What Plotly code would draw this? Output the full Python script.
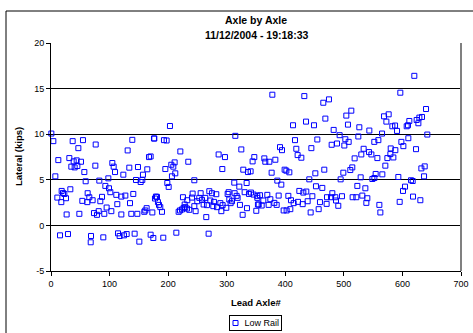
import plotly.graph_objects as go

# Lead axle number and lateral load (kips), Low Rail
axle = [
    0.6, 4, 37, 54.6, 46.7, 76.3, 138.8, 175.8, 130.9, 12.5, 31.3, 38.7, 43.8, 51.2, 34.7, 40.4, 45,
    56.9, 75.7, 104.7, 107, 109.3, 123.5, 133.7, 148.5, 164.4, 167.3, 170.1, 157, 7.4, 59.2, 82.5,
    97.9, 145.1, 153.1, 155.9, 92.8, 99, 101.3, 18.2, 20.5, 22.8, 33, 10.8, 25.6, 17.6, 62.6, 65.4,
    71.1, 62, 53.5, 87.1, 84.2, 111.5, 120.1, 126.9, 140.5, 134.9, 113.2, 95, 103, 81.4, 73.4, 78.5,
    91, 48.4, 26.7, 120.1, 137.1, 147.4, 159.3, 161, 163.3, 173, 177.5, 179.2,
    15.4, 29, 68.3, 67.8, 89.3, 114.4, 117.2, 124.6, 129.2, 142.8, 150.8, 170.1, 174.7,
    203.1, 176.4, 192.9, 197.4, 314.7, 324.9, 220.8, 286.2, 297, 347.1, 344.2, 234.4, 211.1, 205.4,
    208.8, 195.2, 212.2, 206.5, 292.5, 328.3, 336.3, 340.8, 244.7, 198.6, 200.9, 312.9, 321.5, 334,
    181, 182.6, 184.4, 186.6, 189.5, 217.9, 220.2, 223.6, 226.5, 229.3, 232.1, 225.3, 232.7, 228.2,
    236.1, 240.7, 241.8, 244.7, 246.9, 249.8, 253.2, 255.5, 257.8, 260.6, 263.4, 265.1, 266.3, 270.3,
    272, 274.8, 277.1, 278.2, 282.2, 283.4, 289.1, 290.8, 293, 299.3, 301.6, 303.3, 304.4, 306.7, 309,
    313.5, 316.9, 318.6, 322.6, 327.2, 330.6, 334.6, 338, 341.4, 345.9, 350.5, 352.2, 353.3,
    191.7, 214, 269.1,
    377.9, 432.5, 464.9, 474.6, 512.7, 504.2, 435.4, 449, 413.2, 468.4, 507, 526.4, 482.6, 492.8,
    524.7, 502.5, 508.2, 416.6, 454.7, 479.2, 488.3, 500.8, 391, 394.4, 418.8, 444.5, 533.8, 421.1,
    427.4, 529.8, 518.4, 364.2, 365.9, 372.8, 383, 398.9, 401.8, 406.9, 466.6, 514.4, 511, 499.1,
    451.3, 376.7, 441, 494.5, 528.7, 386.4, 393.2, 452.4, 463.2, 523, 424, 430.8, 435.9, 480.3,
    356.8, 369.3, 388.7, 405.2, 446.2, 471.2, 478, 485.4, 496.8, 515, 521.3, 531.5, 352.3, 362.5,
    374.5, 409.7, 414.3, 421.7, 429.7, 438.2, 459.2, 486.6, 490.5, 470.6, 354.6, 359.7, 371.6, 381.3,
    385.3, 397.2, 402.3, 408.6, 443.3, 457,
    620.3, 596.4, 640.3, 568.6, 576.5, 572.6, 582.8, 587.4, 590.8, 611.8, 607.3, 609.5, 624.3, 628.9,
    633.4, 627.2, 543.5, 565.2, 642.5, 610.1, 558.9, 552, 598.2, 601.6, 580, 587.9, 623.2, 543, 547,
    579.4, 574.3, 584.5, 557.2, 570.8, 638, 632.3, 565.7, 554.3, 593, 636.9, 552.1, 548.7, 614.7,
    617.5, 536.7, 604.4, 601, 540.1, 618.1, 630.6, 538.4, 560.6, 595.3, 562.3,
]
lateral = [
    10.07, 9.24, 9.24, 9.35, 8.47, 8.87, 9.38, 9.53, 8.22, 7.16, 7.38, 7.02, 7.13, 6.98, 6.44, 6.36, 6.51,
    5.85, 6.55, 6.84, 6.44, 5.85, 5.56, 6.33, 6.4, 6.15, 7.49, 7.56, 5.56, 5.38, 4.84, 4.91,
    5.16, 4.98, 4.76, 4.98, 4.33, 4.07, 3.64, 3.78, 3.56, 3.45, 3.96, 3.05, 2.98, 2.55, 3.53, 3.09,
    2.76, 2.55, 2.69, 3.13, 2.65, 3.35, 3.16, 3.27, 3.45, 2.44, 2.33, 1.96, 1.56, 1.56, 1.35, 1.16,
    1.27, 1.27, 1.2, 1.2, 1.27, 1.27, 1.49, 1.64, 1.89, 1.42, 2.95, 3.16,
    -1.09, -0.95, -1.16, -1.85, -1.31, -0.87, -1.16, -1.09, -0.95, -0.91, -1.78, -1.02, -1.38,
    10.9, 9.53, 9.35, 9.31, 9.82, 8.33, 8.11, 7.78, 7.49, 7.49, 7.02, 6.98, 6.91, 6.65,
    6.44, 6.18, 5.71, 5.38, 6.18, 6.11, 5.85, 5.93, 4.95, 4.65, 4.22, 4.69, 4.25, 4.65,
    3.13, 2.55, 2.25, 2.0, 1.49, 1.49, 1.64, 1.75, 1.93, 2.0, 1.85, 3.09, 2.76, 2.29,
    1.71, 3.05, 3.49, 2.11, 1.56, 2.65, 3.02, 3.53, 2.8, 2.29, 3.02, 0.91, 2.22, 3.75,
    2.73, 3.53, 2.11, 2.58, 3.42, 2.0, 2.44, 1.56, 2.22, 1.93, 3.45, 3.64, 2.84, 2.44, 2.65,
    3.53, 3.24, 3.02, 2.25, 1.16, 3.64, 1.89, 3.45, 3.6, 3.38, 1.6, 3.24, 2.29,
    -1.35, -0.8, -0.91,
    14.33, 14.18, 13.45, 13.82, 12.58, 12.04, 11.38, 10.98, 10.98, 11.71, 11.05, 10.76, 10.47, 9.89,
    9.75, 9.45, 9.16, 9.35, 9.42, 8.84, 8.98, 8.76, 8.58, 8.25, 8.4, 8.47, 8.4, 7.71,
    7.42, 7.78, 7.35, 7.35, 6.98, 6.98, 7.2, 6.11, 6.0, 5.82, 6.11, 6.36, 6.07, 5.78,
    5.71, 5.78, 5.05, 5.05, 5.27, 4.91, 4.47, 4.29, 4.11, 4.33, 3.78, 3.6, 3.71, 3.53,
    3.31, 3.35, 3.27, 3.24, 3.2, 3.09, 3.09, 3.09, 3.2, 3.09, 3.09, 3.27, 3.02, 2.73,
    2.87, 2.76, 2.44, 2.58, 2.33, 2.65, 2.55, 2.73, 2.15, 2.36, 2.29, 2.18, 2.25, 2.47,
    2.25, 1.64, 1.64, 1.78, 1.42, 1.78,
    16.4, 14.55, 12.76, 11.96, 12.18, 11.38, 10.87, 10.95, 10.36, 11.45, 10.87, 10.98, 11.56, 11.82,
    11.89, 11.2, 10.4, 10.07, 9.96, 9.56, 9.35, 9.16, 9.16, 8.69, 8.44, 8.25, 8.36, 8.04, 7.78,
    7.82, 7.38, 7.45, 7.38, 6.55, 6.47, 6.25, 5.6, 5.64, 5.31, 5.38, 5.2, 5.09, 4.95,
    4.87, 4.07, 4.25, 3.78, 2.98, 3.16, 2.76, 2.47, 2.25, 2.58, 1.42,
]

x_ticks = [0, 100, 200, 300, 400, 500, 600, 700]
y_ticks = [-5, 0, 5, 10, 15, 20]
series_name = "Low Rail"

FONT = "Liberation Sans, Arial, sans-serif"
L, R, T, B = 51, 461, 43, 271   # plot area in pixels
PW, PH = R - L, B - T


def px(x):
    return (x - L) / PW


def py(y):
    return (B - y) / PH


fig = go.Figure()
fig.add_trace(go.Scatter(
    x=axle, y=lateral, mode="markers", name=series_name, showlegend=False,
    marker=dict(symbol="square-open", size=5, color="#0000FF", line=dict(width=1, color="#0000FF")),
    cliponaxis=False, hoverinfo="skip",
))

fig.update_layout(
    width=473, height=333,
    margin=dict(l=L, r=473 - R, t=T, b=333 - B, autoexpand=False),
    paper_bgcolor="white", plot_bgcolor="white",
    font=dict(family=FONT, size=9, color="black"),
    showlegend=False,
    xaxis=dict(
        range=[0, 700], tickvals=x_ticks, ticktext=[str(v) for v in x_ticks],
        showgrid=False, zeroline=False, showline=True, linecolor="black", linewidth=1,
        ticks="outside", ticklen=4, tickcolor="black", tickfont=dict(size=9), automargin=False,
    ),
    yaxis=dict(
        range=[-5, 20], tickvals=y_ticks, ticktext=[str(v) for v in y_ticks],
        showgrid=True, gridcolor="black", gridwidth=1, zeroline=False,
        showline=True, linecolor="black", linewidth=1,
        ticks="outside", ticklen=4, tickcolor="black", tickfont=dict(size=9), automargin=False,
    ),
    annotations=[
        dict(text="<b>Axle by Axle</b>", xref="paper", yref="paper", x=0.5, y=py(20),
             showarrow=False, font=dict(size=10.5), xanchor="center", yanchor="middle"),
        dict(text="<b>11/12/2004 - 19:18:33</b>", xref="paper", yref="paper", x=0.5, y=py(35),
             showarrow=False, font=dict(size=10.5), xanchor="center", yanchor="middle"),
        dict(text="<b>Lead Axle#</b>", xref="paper", yref="paper", x=0.5, y=py(302),
             showarrow=False, font=dict(size=9.5), xanchor="center", yanchor="middle"),
        dict(text="<b>Lateral (kips)</b>", xref="paper", yref="paper", x=px(18), y=0.5,
             showarrow=False, font=dict(size=9.5), xanchor="center", yanchor="middle", textangle=-90),
        # legend box
        dict(text=series_name, xref="paper", yref="paper", x=px(282), y=py(323),
             showarrow=False, font=dict(size=9), xanchor="right", yanchor="middle",
             width=47, align="right", bordercolor="black", borderwidth=1, borderpad=2),
    ],
    shapes=[
        dict(type="line", xref="paper", yref="paper", x0=1, x1=1, y0=0, y1=1,
             line=dict(color="#808080", width=2)),
        dict(type="line", xref="paper", yref="paper", x0=px(6), x1=px(6),
             y0=py(345), y1=py(11), line=dict(color="black", width=1)),
        dict(type="line", xref="paper", yref="paper", x0=px(6), x1=px(490),
             y0=py(11), y1=py(11), line=dict(color="black", width=1)),
        # legend symbol
        dict(type="rect", xref="paper", yref="paper", x0=px(233), x1=px(238),
             y0=py(325.5), y1=py(320.5), line=dict(color="#0000FF", width=1)),
    ],
)

fig.write_html(
    "out.html",
    config={"displayModeBar": False, "staticPlot": True},
    post_script="document.body.style.margin='0';document.body.style.overflow='hidden';",
)
